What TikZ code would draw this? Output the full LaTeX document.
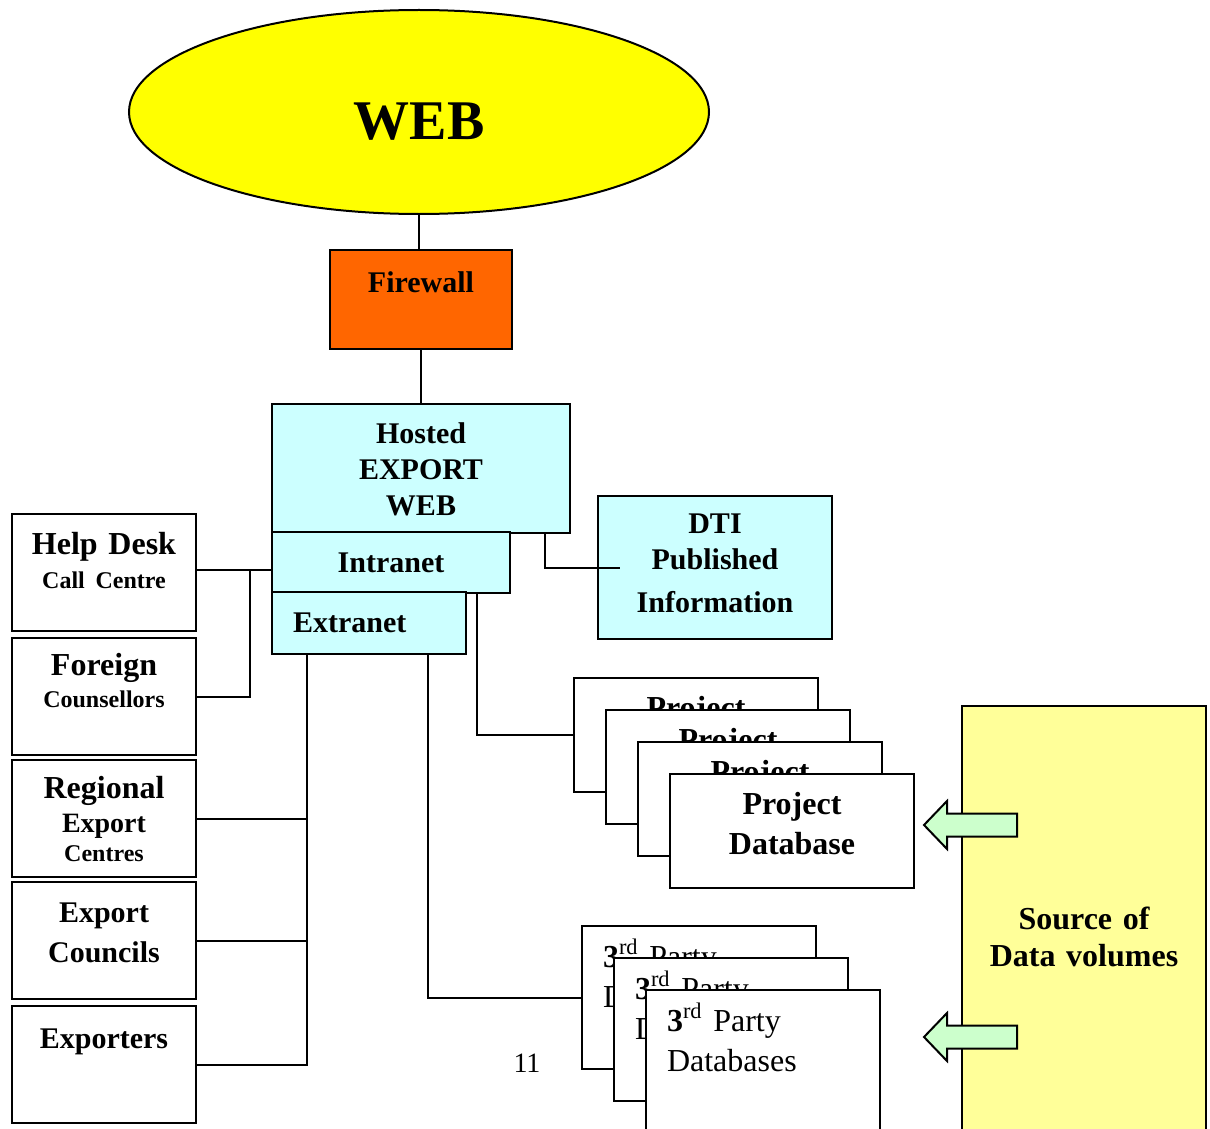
\documentclass[tikz,border=0pt]{standalone}
\usepackage{fontspec}
\setmainfont{Liberation Serif}
\usepackage{xcolor}
\usepackage{tikz}
\usetikzlibrary{positioning,shapes.geometric,calc}
\definecolor{webyellow}{HTML}{FFFF00}
\definecolor{wallorange}{HTML}{FF6600}
\definecolor{hostcyan}{HTML}{CCFFFF}
\definecolor{sourceyellow}{HTML}{FFFF99}
\definecolor{arrowgreen}{HTML}{CCFFCC}
\tikzset{
  box/.style={rectangle,draw=black,line width=1pt,fill=white,inner sep=0pt,anchor=north west,align=center},
  webcloud/.style={ellipse,draw=black,line width=1pt,fill=webyellow,minimum width=290pt,minimum height=102pt,inner sep=0pt,text height=27.5pt,text depth=0pt,font=\fontsize{28}{30}\selectfont\bfseries},
  wall/.style={box,fill=wallorange,text width=91pt,text height=21pt,text depth=28.5pt,font=\fontsize{15}{18}\selectfont\bfseries},
  hostbox/.style={box,fill=hostcyan,font=\fontsize{15}{18}\selectfont\bfseries},
  sidebox/.style={box,text width=92pt,font=\fontsize{16}{17}\selectfont\bfseries},
  dbbox/.style={box,text width=122pt,text height=20.3pt,text depth=36.7pt,font=\fontsize{16}{20}\selectfont\bfseries},
  partybox/.style={box,align=left,inner xsep=10.5pt,text width=96pt,text height=20.5pt,text depth=51pt,font=\fontsize{16}{20}\selectfont},
  sourcebox/.style={box,fill=sourceyellow,text width=122pt,text height=111.8pt,text depth=103.2pt,font=\fontsize{16}{18.5}\selectfont\bfseries},
  dataarrow/.pic={\filldraw[draw=black,line width=1pt,fill=arrowgreen] (0,0) -- (23,-24) -- (23,-11.5) -- (93,-11.5) -- (93,11.5) -- (23,11.5) -- (23,24) -- cycle;},
  line/.style={line width=1pt,draw=black}
}
\begin{document}
\begin{tikzpicture}[x=0.5pt,y=-0.5pt]
  \clip (0,0) rectangle (1210,1129);
  \node[webcloud] (web) at (419,112) {WEB};
  \node[wall] (fw) at (329,249) {Firewall};
  \node[hostbox,text width=149pt,text height=19.5pt,text depth=45pt] (hosted) at (271,403) {Hosted\\EXPORT\\WEB};
  \node[hostbox,text width=119pt,text height=20pt,text depth=10.5pt] (intranet) at (271,531) {Intranet};
  \node[hostbox,align=left,inner xsep=10.5pt,text width=76pt,text height=20pt,text depth=11pt] (extranet) at (271,591) {Extranet};
  \node[hostbox,text width=117pt,text height=18.5pt,text depth=53pt] (dti) at (597,495) {DTI\\Published\\[3.5pt]Information};

  \node[sidebox,text height=20.3pt,text depth=38.2pt] (help) at (11,513) {Help Desk\\{\fontsize{12}{12}\selectfont Call Centre}};
  \node[sidebox,text height=18.8pt,text depth=39.7pt] (foreign) at (11,637) {Foreign\\[-1pt]{\fontsize{12}{12}\selectfont Counsellors}};
  \node[sidebox,text height=19.3pt,text depth=39.2pt] (regional) at (11,759) {Regional\\{\fontsize{14}{14}\selectfont Export}\\[-2.5pt]{\fontsize{12}{12}\selectfont Centres}};
  \node[sidebox,font=\fontsize{15}{20}\selectfont\bfseries,text height=20pt,text depth=38.5pt] (councils) at (11,881) {Export\\Councils};
  \node[sidebox,font=\fontsize{15}{18}\selectfont\bfseries,text height=21pt,text depth=37.5pt] (exporters) at (11,1005) {Exporters};

  \node[dbbox] (proja) at (573,677) {Project\\Database};
  \node[dbbox] (projb) at (605,709) {Project\\Database};
  \node[dbbox] (projc) at (637,741) {Project\\Database};
  \node[dbbox] (projd) at (669,773) {Project\\Database};

  \node[partybox] (partya) at (581,925) {\textbf{3}\textsuperscript{rd} Party\\Databases};
  \node[partybox] (partyb) at (613,957) {\textbf{3}\textsuperscript{rd} Party\\Databases};
  \node[partybox] (partyc) at (645,989) {\textbf{3}\textsuperscript{rd} Party\\Databases};

  \node[sourcebox] (source) at (961,705) {Source of\\Data volumes};
  \pic at (924,825) {dataarrow};
  \pic at (924,1037) {dataarrow};

  \node[font=\fontsize{14}{16}\selectfont] (pageno) at (527,1063) {11};

  \draw[line] (web.south) -- (web.south |- fw.north);
  \draw[line] (fw.south) -- (hosted.north);
  \draw[line] ($(hosted.south east)+(-26,0)$) |- ($(dti.west)+(23,0)$);
  \draw[line] ($(help.east)+(0,-3)$) -- ($(help.east -| intranet.west)+(0,-3)$);
  \draw[line] (foreign.east) -| ($(help.east)!0.71!(help.east -| intranet.west)+(0,-3)$);
  \draw[line] ($(extranet.south west)+(36,0)$) coordinate (bus) |- (exporters.east);
  \draw[line] (regional.east) -- (regional.east -| bus);
  \draw[line] (councils.east) -- (councils.east -| bus);
  \draw[line] ($(extranet.south east)+(-39,0)$) |- (partya.west);
  \draw[line] ($(intranet.south east)+(-34,0)$) |- (proja.west);
\end{tikzpicture}
\end{document}
